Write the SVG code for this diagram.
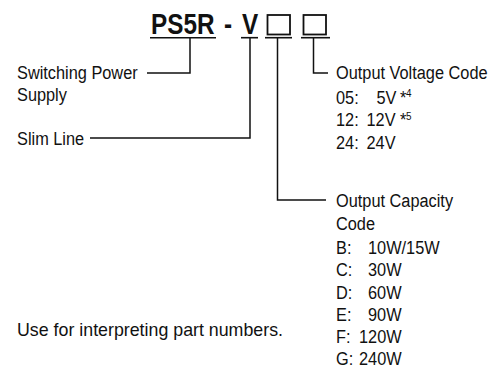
<svg xmlns="http://www.w3.org/2000/svg" width="500" height="372" viewBox="0 0 500 372">
<style>
text { font-family: "Liberation Sans", Arial, sans-serif; fill: #111; }
.t { font-size: 19px; transform-box: fill-box; transform-origin: 0 0; transform: scaleX(0.86); }
.h { font-size: 30px; font-weight: bold; transform-box: fill-box; transform-origin: 0 0; transform: scaleX(0.81); }
.sup { font-size: 11.5px; transform-box: fill-box; transform-origin: 0 0; transform: scaleX(0.86); }
.u { stroke: #111; stroke-width: 1.6; fill: none; }
.box { stroke: #111; stroke-width: 1.8; fill: none; }
.c { stroke: #111; stroke-width: 1.5; fill: none; }
</style>
<rect width="500" height="372" fill="#fff"/>
<g id="code-ps5r">
<text class="h" x="151" y="34">PS5R</text>
<line class="u" x1="150" y1="37.7" x2="216" y2="37.7"/>
</g>
<g id="code-dash">
<text class="h" x="224" y="34">-</text>
</g>
<g id="code-v">
<text class="h" x="242" y="34">V</text>
<line class="u" x1="241" y1="37.7" x2="258" y2="37.7"/>
</g>
<g id="code-box1">
<rect class="box" x="267.5" y="15" width="22.5" height="19.5"/>
<line class="u" x1="265" y1="37.7" x2="292" y2="37.7"/>
</g>
<g id="code-box2">
<rect class="box" x="303.5" y="15" width="22.5" height="19.5"/>
<line class="u" x1="301" y1="37.7" x2="330" y2="37.7"/>
</g>
<g id="connectors">
<path class="c" d="M190 38 V73 H147"/>
<path class="c" d="M250 38 V138 H90"/>
<path class="c" d="M277.5 38 V200 H326"/>
<path class="c" d="M313.5 38 V73 H328"/>
</g>
<g id="label-switching">
<text class="t" x="17" y="79.5">Switching Power</text>
<text class="t" x="17" y="101.5">Supply</text>
</g>
<g id="label-slim">
<text class="t" x="17" y="145">Slim Line</text>
</g>
<g id="label-voltage">
<text class="t" x="336" y="79.5">Output Voltage Code</text>
<text class="t" x="336" y="104">05:</text>
<text class="t" x="376.5" y="104">5V</text>
<text class="t" x="400" y="104">*</text>
<text class="sup" x="406" y="97.5">4</text>
<text class="t" x="336" y="126.5">12:</text>
<text class="t" x="366.5" y="126.5">12V</text>
<text class="t" x="400" y="126.5">*</text>
<text class="sup" x="406" y="120">5</text>
<text class="t" x="336" y="149">24:</text>
<text class="t" x="366.5" y="149">24V</text>
</g>
<g id="label-capacity">
<text class="t" x="336" y="207.5">Output Capacity</text>
<text class="t" x="336" y="230">Code</text>
<text class="t" x="336" y="254">B:</text>
<text class="t" x="368" y="254">10W/15W</text>
<text class="t" x="336" y="276.3">C:</text>
<text class="t" x="368" y="276.3">30W</text>
<text class="t" x="336" y="298.6">D:</text>
<text class="t" x="368" y="298.6">60W</text>
<text class="t" x="336" y="321">E:</text>
<text class="t" x="368" y="321">90W</text>
<text class="t" x="336" y="343.3">F:</text>
<text class="t" x="359" y="343.3">120W</text>
<text class="t" x="336" y="365.5">G:</text>
<text class="t" x="359" y="365.5">240W</text>
</g>
<g id="note">
<text x="17" y="336" font-size="19" textLength="266" lengthAdjust="spacingAndGlyphs">Use for interpreting part numbers.</text>
</g>
</svg>
